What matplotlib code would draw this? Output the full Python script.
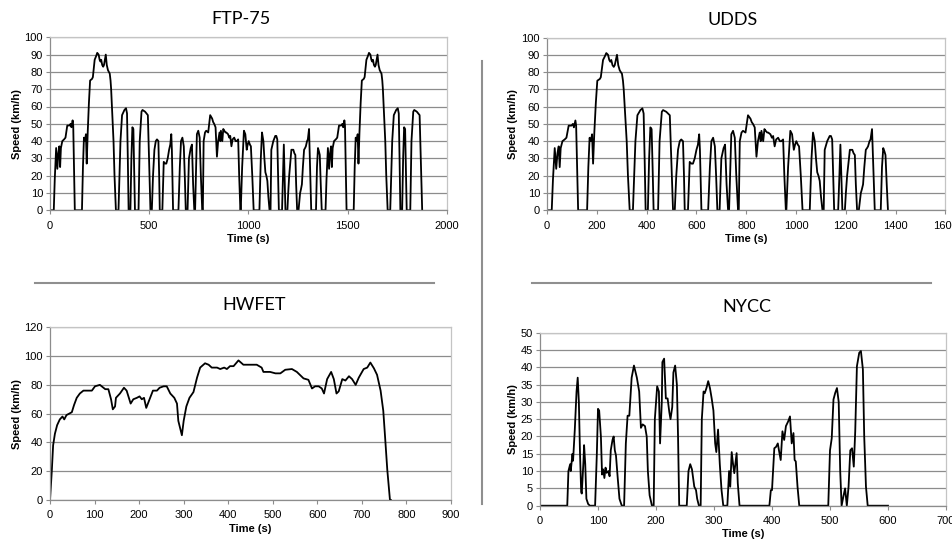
import matplotlib
matplotlib.use("Agg")
import matplotlib.pyplot as plt
from matplotlib.lines import Line2D

plt.rcParams["font.family"] = ["Liberation Sans", "DejaVu Sans"]

# ---- speed traces (time in s, speed in km/h) ----
UDDS_T = [0, 19, 24, 31, 34, 37, 42, 47, 51, 55, 62, 71, 78, 83, 87, 98, 104, 108, 114, 117, 121, 125,
          161, 166, 171, 176, 181, 185, 190, 196, 202, 212, 216, 225, 232, 238, 245, 250, 254, 258, 263,
          268, 272, 281, 286, 292, 301, 305, 308, 312, 316, 320, 325, 332,
          345, 350, 355, 363, 375, 383, 388, 392, 396,
          405, 410, 415, 420, 424, 428,
          446, 452, 461, 466, 479, 486, 493, 499, 506,
          513, 519, 526, 533, 539, 546, 550, 553,
          566, 573, 580, 586, 593, 600, 606, 611, 614, 620,
          647, 654, 660, 667, 674, 679, 684,
          693, 700, 709, 715, 721, 727,
          731, 736, 740, 747, 754, 760, 767,
          770, 774, 781, 787, 797, 802, 807, 812, 817, 822, 827, 834, 841, 847, 854, 858, 861, 868, 873,
          878, 884, 888, 897, 903, 908, 914, 920, 928, 935, 941, 948, 953, 959,
          961, 968, 977, 984, 991, 996, 1001, 1007, 1012, 1019, 1026,
          1055, 1062, 1068, 1075, 1080, 1085, 1090, 1095, 1100, 1106,
          1111, 1115, 1125, 1135, 1140, 1145, 1149, 1153,
          1169, 1174, 1178, 1182, 1186,
          1196, 1200, 1205, 1210, 1216, 1220, 1226, 1231, 1236, 1240, 1245,
          1252, 1260, 1264, 1269, 1274, 1280, 1285, 1289, 1295, 1299, 1302, 1305, 1310, 1316,
          1340, 1345, 1350, 1355, 1359, 1364, 1369]
UDDS_V = [0, 0, 18, 36, 30, 24, 33, 37, 25, 36, 40, 41, 42, 46, 49, 49, 50, 48, 52, 49, 25, 0,
          0, 25, 42, 40, 44, 27, 45, 62, 75, 76, 77, 87, 89, 91, 90, 87, 86, 87, 84,
          83, 84, 90, 84, 81, 79, 75, 70, 60, 50, 40, 20, 0,
          0, 20, 40, 55, 58, 59, 56, 30, 0,
          0, 30, 48, 47, 25, 0,
          0, 40, 57, 58, 57, 56, 55, 30, 0,
          0, 20, 35, 40, 41, 40, 20, 0,
          0, 28, 27, 27, 30, 35, 38, 44, 35, 0,
          0, 25, 40, 42, 37, 20, 0,
          0, 30, 36, 38, 15, 0,
          0, 25, 44, 46, 42, 20, 0,
          0, 40, 45, 46, 45, 50, 55, 54, 53, 51, 50, 48, 31, 40, 45, 40, 46, 40, 47,
          46, 45, 45, 44, 42, 43, 37, 41, 42, 40, 40, 41, 20, 0,
          0, 25, 46, 44, 35, 38, 40, 38, 37, 20, 0,
          0, 30, 45, 40, 30, 22, 20, 17, 8, 0,
          0, 35, 40, 43, 43, 41, 20, 0,
          0, 20, 38, 20, 0,
          0, 10, 20, 27, 35, 35, 35, 33, 32, 15, 0,
          0, 10, 12, 15, 25, 35, 36, 37, 40, 41, 44, 47, 25, 0,
          0, 25, 36, 34, 32, 15, 0]

# FTP-75 = full UDDS followed by a repeat of its first 506 s (hot start)
HOT_START_END = 506
UDDS_LENGTH = 1369

HWFET_T = [0, 4, 7, 11, 16, 22, 28, 32, 37, 43, 49, 54, 60, 67, 75, 86, 94, 101, 112, 120, 124, 131,
           137, 141, 146, 148, 157, 166, 172, 176, 181, 187, 195, 201, 206, 211, 216, 221, 231, 240,
           246, 255, 262, 270, 279, 285, 288, 292, 296, 300, 306, 313, 322, 330, 337, 348, 356, 363,
           375, 382, 391, 397, 404, 412, 423, 434, 449, 464, 475, 479, 494, 506, 517, 528, 543, 554,
           569, 580, 588, 595, 603, 610, 615, 622, 631, 637, 643, 648, 656, 663, 671, 678, 686, 693,
           704, 712, 719, 727, 734, 742, 748, 752, 757, 763, 765]
HWFET_V = [0, 20, 38, 46, 52, 56, 58, 56, 59, 60, 61, 66, 71, 74, 76, 76, 76, 79, 80, 78, 77, 77,
           70, 63, 65, 71, 74, 78, 76, 72, 67, 70, 71, 72, 70, 71, 64, 68, 76, 76,
           78, 79, 79, 74, 71, 67, 55, 50, 45, 55, 65, 71, 75, 85, 92, 95, 94, 92,
           92, 91, 92, 91, 93, 93, 97, 94, 94, 94, 92, 89, 89, 88, 88, 90.5, 91, 89,
           84.5, 83.5, 77.5, 79, 79, 77.5, 74, 84, 89, 84, 74, 75.5, 84, 83, 86, 84, 80, 85,
           91, 92, 95.5, 91.5, 87, 76, 62, 44, 21, 0, 0]

NYCC_T = [0, 47, 49, 52, 53, 56, 57, 60, 63, 65, 67, 69, 71, 72, 75, 76, 78, 80, 83, 86,
          95, 98, 100, 102, 105, 107, 109, 111, 113, 115, 118, 120, 122, 125, 127, 129, 131, 134, 137, 141,
          145, 148, 151, 154, 158, 162, 167, 171, 174, 177, 181, 184, 186, 189, 193,
          196, 198, 202, 205, 207, 210, 211, 214, 217, 220, 223, 225, 228, 230, 233, 236, 238, 240,
          253, 256, 259, 262, 266, 269, 271, 274,
          277, 279, 282, 284, 287, 290, 293, 296, 299, 302, 304, 307, 310, 313, 316,
          323, 326, 328, 330.5, 333, 335, 339, 341, 344,
          395.5, 398, 400, 402, 404, 407, 410, 412, 415, 418, 421, 424, 428, 431, 434, 437, 439, 441, 444, 447,
          497, 500, 503, 506, 509, 512, 515, 517.6, 520, 523, 526, 529, 532, 535, 538, 541, 543.5, 546.4,
          550.4, 553.3, 556.7, 559, 562, 565, 600]
NYCC_V = [0, 0, 10, 12, 10, 15, 13, 22, 33, 37, 30, 15, 4, 3.5, 13, 17.5, 12, 2, 0.5, 0,
          0, 15, 28, 27.5, 20, 9, 10.5, 8, 11, 9.5, 10, 8.5, 16, 19, 20, 16, 14.5, 8, 2, 0,
          0, 18, 26, 26, 37, 40.5, 37, 33, 22.5, 23.5, 23, 20, 10, 3, 0,
          0, 25, 34.5, 33, 18, 30, 41.5, 42.5, 31, 31, 27, 25, 28.5, 38.5, 40.5, 35, 20, 0,
          0, 10, 12, 10.5, 5.5, 4.5, 2, 0,
          0, 25, 33, 32.5, 34, 36, 34, 31, 27.5, 18, 15.5, 22, 12, 4.5, 0,
          0, 10, 5.5, 15.5, 11.8, 9.4, 15.2, 6.5, 0,
          0, 4.5, 4.5, 10.3, 16.6, 17, 18, 16, 13.2, 21.5, 19, 23, 24.4, 25.8, 18, 21, 13.2, 12.8, 5.5, 0,
          0, 16, 19.5, 30.7, 32.6, 34, 30, 10, 0, 2.6, 5, 0, 5.5, 16, 16.6, 11.3, 21.5, 40.3,
          44.2, 44.7, 39.4, 20, 5.5, 0, 0]

hot_t = [t + UDDS_LENGTH for t in UDDS_T if 0 < t <= HOT_START_END]
hot_v = [v for t, v in zip(UDDS_T, UDDS_V) if 0 < t <= HOT_START_END]
FTP75_T = UDDS_T + hot_t
FTP75_V = UDDS_V + hot_v

W, H = 953, 541
fig = plt.figure(figsize=(W / 100, H / 100), dpi=100)


def px_axes(left, top, right, bottom):
    return fig.add_axes([left / W, 1 - bottom / H, (right - left) / W, (bottom - top) / H])


def draw_cycle(ax, t, v, xmax, xstep, ymax, ystep, ylab_x, xlab_y):
    ax.plot(t, v, color="black", lw=1.3, solid_joinstyle="round")
    ax.set_xlim(0, xmax)
    ax.set_ylim(0, ymax)
    ax.set_xticks(range(0, xmax + 1, xstep))
    ax.set_yticks(range(0, ymax + 1, ystep))
    ax.yaxis.grid(True, color="#8c8c8c", lw=0.9)
    ax.set_axisbelow(True)
    for side in ("top", "right"):
        ax.spines[side].set_color("#c4c4c4")
    for side in ("left", "bottom"):
        ax.spines[side].set_color("#8c8c8c")
    for sp in ax.spines.values():
        sp.set_linewidth(0.9)
    ax.tick_params(axis="y", direction="out", length=3, width=0.8, color="#8c8c8c",
                   labelsize=8, pad=2)
    ax.tick_params(axis="x", direction="out", length=3, width=0.8, color="#8c8c8c",
                   labelsize=8, pad=4.5)
    ax.set_ylabel("Speed (km/h)", fontsize=8, fontweight="bold")
    ax.set_xlabel("Time (s)", fontsize=8, fontweight="bold")
    # place axis labels in figure pixels
    bb = ax.get_position()
    ax.yaxis.set_label_coords(ylab_x / W, bb.y0 + bb.height / 2, transform=fig.transFigure)
    ax.xaxis.set_label_coords(bb.x0 + bb.width / 2, 1 - xlab_y / H, transform=fig.transFigure)


ax_ftp = px_axes(50, 37.3, 447, 210.3)
draw_cycle(ax_ftp, FTP75_T, FTP75_V, 2000, 500, 100, 10, 22.5, 234)

ax_udds = px_axes(547, 37.5, 945.5, 210.3)
draw_cycle(ax_udds, UDDS_T, UDDS_V, 1600, 200, 100, 10, 518, 234)

ax_hw = px_axes(50, 327.3, 451, 500)
draw_cycle(ax_hw, HWFET_T, HWFET_V, 900, 100, 120, 20, 22.5, 524)

ax_ny = px_axes(540, 332.7, 946, 505.7)
draw_cycle(ax_ny, NYCC_T, NYCC_V, 700, 100, 50, 5, 518, 529)

# panel titles
title_kw = dict(fontsize=13, family=["Lato", "DejaVu Sans"], ha="center", va="center")
fig.text(241 / W, 1 - 18.5 / H, "FTP-75", **title_kw)
fig.text(733 / W, 1 - 20 / H, "UDDS", **title_kw)
fig.text(254 / W, 1 - 305 / H, "HWFET", **title_kw)
fig.text(746.5 / W, 1 - 307 / H, "NYCC", **title_kw)

# separators between the panels
sep = dict(color="#8f8f8f", lw=1.5, transform=fig.transFigure)
fig.add_artist(Line2D([35 / W, 434 / W], [1 - 283 / H] * 2, **sep))
fig.add_artist(Line2D([532 / W, 931 / W], [1 - 283 / H] * 2, **sep))
fig.add_artist(Line2D([482.5 / W] * 2, [1 - 61 / H, 1 - 504 / H], **sep))

fig.savefig("out.png", dpi=100)
